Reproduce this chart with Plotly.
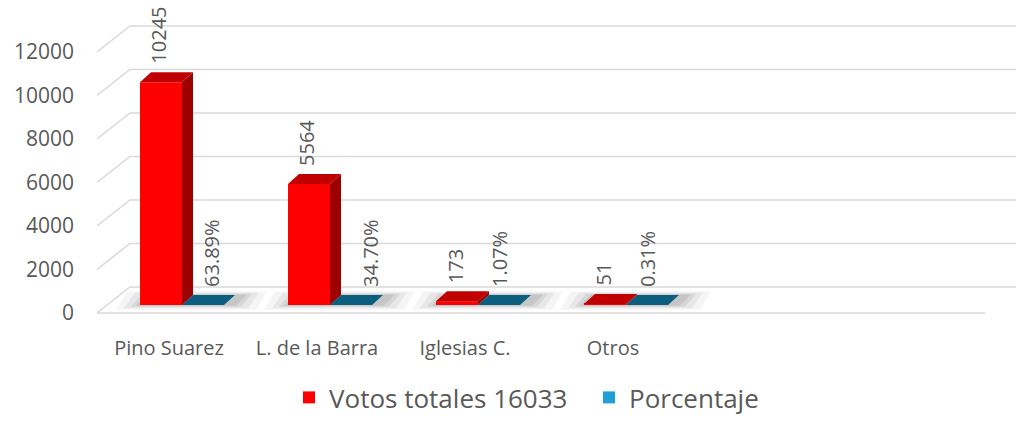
import plotly.graph_objects as go

# ---------------- data ----------------
categories = ["Pino Suarez", "L. de la Barra", "Iglesias C.", "Otros"]
votos = [10245, 5564, 173, 51]
porcentaje = [0.6389, 0.3470, 0.0107, 0.0031]
y_ticks = [0, 2000, 4000, 6000, 8000, 10000, 12000]
series_names = ["Votos totales 16033", "Porcentaje"]
n_slots = 6  # category slots along the axis (last two empty)

# ---------------- style / geometry (pixels) ----------------
W, H = 1016, 421
ML, MR, MT, MB = 97, 0, 0, 101
PW, PH = W - ML - MR, H - MT - MB
K = 261 / 12000.0            # px per vote
SLOT = 148.0                  # px per category
FIRST_C = 182.0               # px of first group centre (bar plane)
Y0_FRONT, Y0_BAR, Y0_BACK = 313.0, 305.0, 287.0
BACK_DX, BACK_DY = 33.0, 26.0
BAR_DX, BAR_DY = 11.0, 10.0
BAR_W = 42.0
TXT = "#595959"
FONT = "Open Sans"
GRID = "#D9D9D9"
RED_FRONT, RED_SIDE, RED_TOP = "#FF0000", "#9E0000", "#C00000"
TEAL_SIDE, TEAL_TOP = "#08445C", "#0B5E7E"
red_label_dx = [-2, -2, -2, -2]
teal_label_dx = [9, 20, 0, 0]

# axis ranges (in data units) derived from pixel geometry
x0 = -(FIRST_C - ML) / SLOT
x1 = x0 + PW / SLOT
yf = [-(PH + MT - Y0_FRONT) / K, (Y0_FRONT - MT) / K]   # front (labels)
yb = [-(PH + MT - Y0_BAR) / K, (Y0_BAR - MT) / K]       # bar plane
bw = BAR_W / SLOT
ddx, ddy = BAR_DX / SLOT, BAR_DY / K
idx = list(range(len(categories)))
bar_off = (Y0_FRONT - Y0_BAR) / K

fig = go.Figure()
shapes = []

# 3D gridlines (front wall edge -> back wall)
gdx = BACK_DX / SLOT
gdy = BACK_DY / K
for t in y_ticks:
    path = f"M{x0},{t} L{x0 + gdx},{t + gdy} L{x1 + 1},{t + gdy}"
    shapes.append(dict(type="path", path=path, xref="x", yref="y",
                       line=dict(color=GRID, width=1.5), layer="below"))
shapes.append(dict(type="line", x0=x0, x1=x0 + n_slots, y0=0, y1=0, xref="x", yref="y",
                   line=dict(color=GRID, width=1.5), layer="below"))

# soft floor shadows (below the bars)
for grow, alpha in [(24, 0.05), (16, 0.07), (9, 0.09), (4, 0.11)]:
    for i in idx:
        gx0 = i - bw - grow / SLOT
        gx1 = i + bw + (grow + 8) / SLOT
        gy0 = bar_off - grow * 0.2 / K
        gy1 = bar_off + ddy + grow * 0.15 / K
        path = (f"M{gx0},{gy0} L{gx1},{gy0} L{gx1 + ddx},{gy1} "
                f"L{gx0 + ddx},{gy1} Z")
        shapes.append(dict(type="path", path=path, xref="x", yref="y",
                           fillcolor=f"rgba(60,60,60,{alpha})",
                           line=dict(width=0), layer="below"))


def faces(vals, left_off, side_col, top_col):
    for i, v in zip(idx, vals):
        xl, xr = i + left_off, i + left_off + bw
        fig.add_trace(go.Scatter(
            x=[xr, xr + ddx, xr + ddx, xr, xr], y=[0, ddy, v + ddy, v, 0],
            xaxis="x", yaxis="y2", mode="lines", fill="toself", fillcolor=side_col,
            line=dict(width=0), hoverinfo="skip", showlegend=False))
        fig.add_trace(go.Scatter(
            x=[xl, xr, xr + ddx, xl + ddx, xl], y=[v, v, v + ddy, v + ddy, v],
            xaxis="x", yaxis="y2", mode="lines", fill="toself", fillcolor=top_col,
            line=dict(width=0), hoverinfo="skip", showlegend=False))


fig.add_trace(go.Bar(x=idx, y=votos, name=series_names[0], width=bw, offset=-bw,
                     marker=dict(color=RED_FRONT, line=dict(width=0)),
                     xaxis="x", yaxis="y2"))
fig.add_trace(go.Bar(x=idx, y=porcentaje, name=series_names[1], width=bw, offset=0,
                     marker=dict(color="#1E9FD8", line=dict(width=0)),
                     xaxis="x", yaxis="y2"))
faces(votos, -bw, RED_SIDE, RED_TOP)
faces(porcentaje, 0, TEAL_SIDE, TEAL_TOP)

# data labels
for i, v in zip(idx, votos):
    fig.add_annotation(x=i - bw / 2, y=v + ddy, xref="x", yref="y2",
                       text=f"{v}", textangle=-90, showarrow=False,
                       xanchor="center", yanchor="bottom", yshift=6,
                       xshift=red_label_dx[i],
                       font=dict(family=FONT, size=20, color=TXT))
for i, p in zip(idx, porcentaje):
    fig.add_annotation(x=i + bw / 2, y=p + ddy, xref="x", yref="y2",
                       text=f"{p * 100:.2f}%", textangle=-90, showarrow=False,
                       xanchor="center", yanchor="bottom", yshift=6,
                       xshift=teal_label_dx[i],
                       font=dict(family=FONT, size=20, color=TXT))

fig.update_layout(
    width=W, height=H,
    margin=dict(l=ML, r=MR, t=MT, b=MB, pad=0, autoexpand=False),
    paper_bgcolor="white", plot_bgcolor="white",
    barmode="overlay",
    shapes=shapes,
    font=dict(family=FONT, color=TXT),
    showlegend=True,
    legend=dict(orientation="h", x=(289 - ML) / PW, xanchor="left",
                y=(PH + MT - H) / PH, yanchor="bottom",
                font=dict(family=FONT, size=26, color=TXT),
                entrywidth=255, bgcolor="rgba(0,0,0,0)"),
    xaxis=dict(range=[x0, x1], showgrid=False, zeroline=False, showline=False,
               tickmode="array", tickvals=idx, ticktext=categories,
               ticklabelshift=-13, ticklabelstandoff=14, ticks="",
               automargin=False,
               tickfont=dict(family=FONT, size=20, color=TXT), fixedrange=True),
    yaxis=dict(range=yf, tickmode="array", tickvals=y_ticks,
               ticktext=[str(t) for t in y_ticks], ticks="",
               showgrid=False, zeroline=False, showline=False,
               ticklabelstandoff=22, automargin=False,
               tickfont=dict(family=FONT, size=21, color=TXT), fixedrange=True),
    yaxis2=dict(range=yb, overlaying="y", showgrid=False, zeroline=False,
                showticklabels=False, showline=False, fixedrange=True,
                automargin=False),
)

fig.write_html("out.html",
               config={"displayModeBar": False},
               post_script="document.body.style.margin='0px';"
                           "document.body.style.padding='0px';")
